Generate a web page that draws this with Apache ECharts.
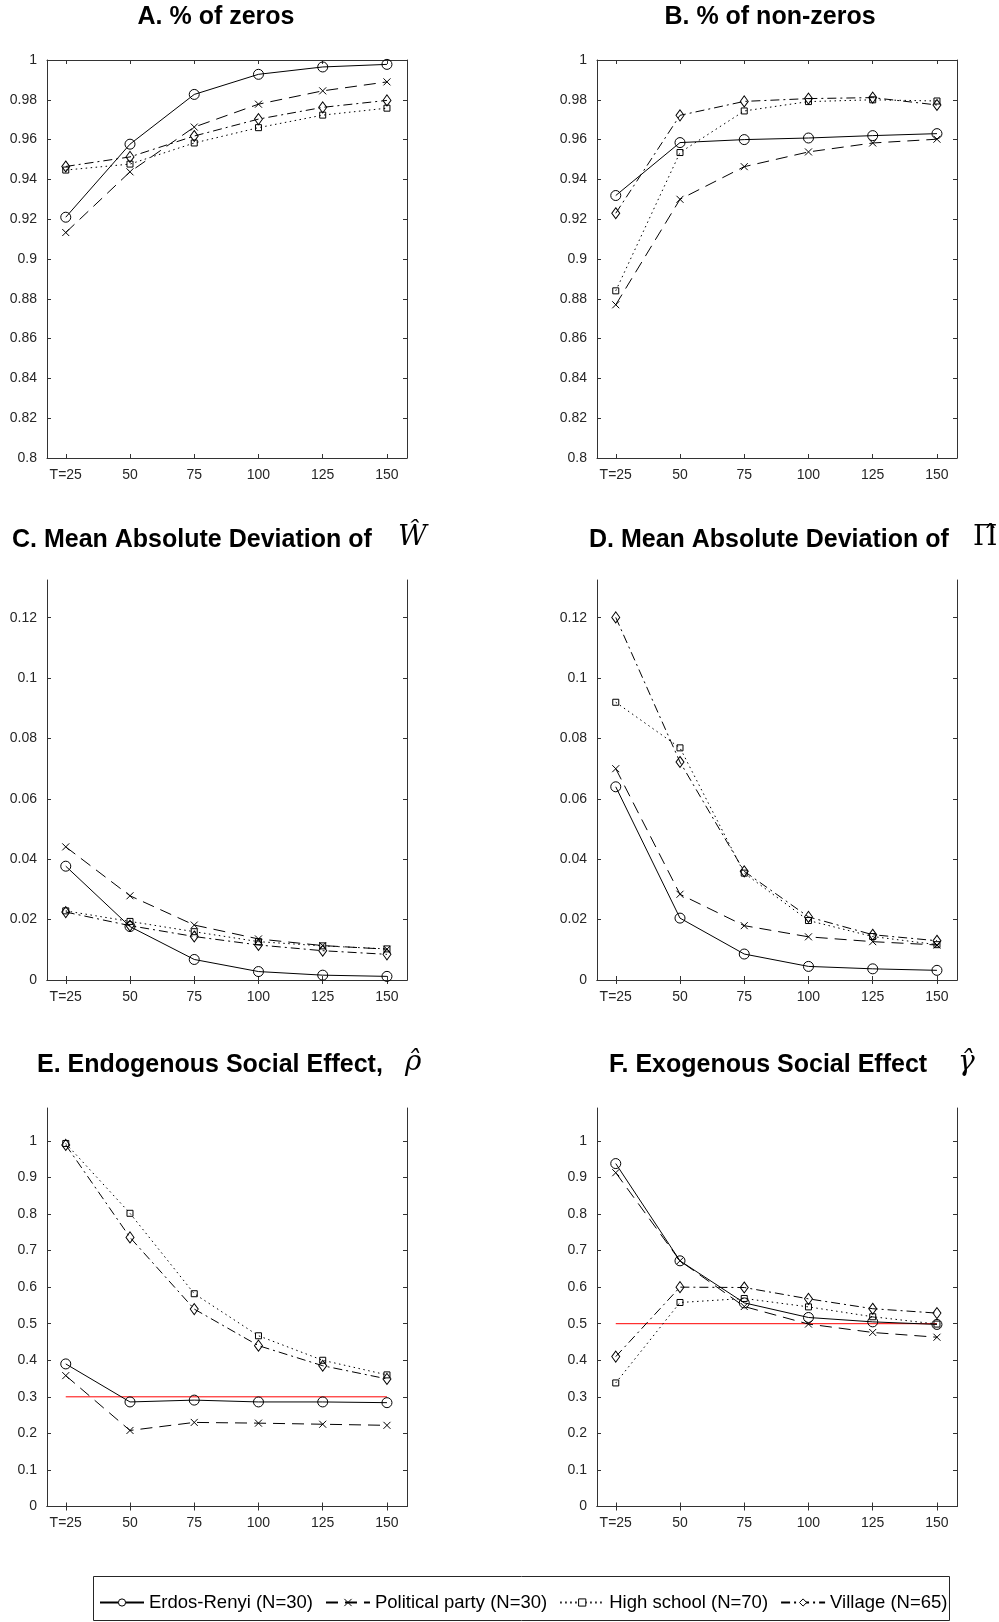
<!DOCTYPE html>
<html>
<head>
<meta charset="utf-8">
<script src="https://cdn.jsdelivr.net/npm/echarts@6/dist/echarts.min.js"></script>
<style>
html,body{margin:0;padding:0;background:#fff;}
#chart{width:999px;height:1622px;}
</style>
</head>
<body>
<div id="chart"></div>
<script>
// ---- data ----
const T = [25, 50, 75, 100, 125, 150];
const xTickLabels = ['T=25', '50', '75', '100', '125', '150'];
const seriesNames = ['Erdos-Renyi (N=30)', 'Political party (N=30)', 'High school (N=70)', 'Village (N=65)'];

const yTicksShare = [0.8, 0.82, 0.84, 0.86, 0.88, 0.9, 0.92, 0.94, 0.96, 0.98, 1];
const yTicksMAD = [0, 0.02, 0.04, 0.06, 0.08, 0.1, 0.12];
const yTicksEffect = [0, 0.1, 0.2, 0.3, 0.4, 0.5, 0.6, 0.7, 0.8, 0.9, 1];

// A. % of zeros
const zerosER = [0.921, 0.9577, 0.9827, 0.9928, 0.9965, 0.9978];
const zerosPP = [0.9133, 0.9438, 0.9663, 0.9778, 0.9845, 0.989];
const zerosHS = [0.9447, 0.9477, 0.9583, 0.966, 0.9723, 0.9758];
const zerosVL = [0.9465, 0.9513, 0.9618, 0.9703, 0.9762, 0.9797];
// B. % of non-zeros
const nonzerosER = [0.9319, 0.9585, 0.96, 0.9608, 0.962, 0.963];
const nonzerosPP = [0.877, 0.930, 0.9464, 0.9538, 0.9583, 0.9602];
const nonzerosHS = [0.884, 0.9535, 0.9744, 0.9791, 0.98, 0.9794];
const nonzerosVL = [0.923, 0.9722, 0.9792, 0.9806, 0.9811, 0.9774];
// C. MAD of W
const madWER = [0.0377, 0.0177, 0.0068, 0.0028, 0.0016, 0.0012];
const madWPP = [0.0441, 0.0279, 0.0182, 0.0136, 0.0114, 0.0102];
const madWHS = [0.0229, 0.0194, 0.016, 0.0127, 0.0113, 0.0103];
const madWVL = [0.0225, 0.018, 0.0144, 0.0116, 0.0097, 0.0085];
// D. MAD of Pi
const madPiER = [0.064, 0.0205, 0.0086, 0.0045, 0.0037, 0.0032];
const madPiPP = [0.070, 0.0284, 0.018, 0.0143, 0.0127, 0.0116];
const madPiHS = [0.092, 0.0769, 0.0354, 0.0197, 0.0144, 0.0117];
const madPiVL = [0.1201, 0.0722, 0.036, 0.0209, 0.015, 0.013];
// E. Endogenous social effect rho
const rhoER = [0.390, 0.286, 0.291, 0.286, 0.286, 0.284];
const rhoPP = [0.358, 0.208, 0.230, 0.228, 0.225, 0.222];
const rhoHS = [0.993, 0.802, 0.582, 0.467, 0.400, 0.360];
const rhoVL = [0.989, 0.736, 0.540, 0.440, 0.385, 0.349];
const rhoTrue = 0.3;
// F. Exogenous social effect gamma
const gammaER = [0.938, 0.672, 0.557, 0.517, 0.505, 0.498];
const gammaPP = [0.913, 0.672, 0.547, 0.499, 0.476, 0.463];
const gammaHS = [0.338, 0.558, 0.569, 0.546, 0.519, 0.499];
const gammaVL = [0.410, 0.600, 0.599, 0.568, 0.541, 0.529];
const gammaTrue = 0.5;

// ---- layout / styles ----
const FONT = 'Liberation Sans';
const AXIS_COLOR = '#333333';
const xMin = 17.7, xMax = 157.8;

const panels = [
  {grid: {left: 47, top: 60, width: 360, height: 398}, yMin: 0.8, yMax: 1, yTicks: yTicksShare,
   data: [zerosER, zerosPP, zerosHS, zerosVL]},
  {grid: {left: 597, top: 60, width: 360, height: 398}, yMin: 0.8, yMax: 1, yTicks: yTicksShare,
   data: [nonzerosER, nonzerosPP, nonzerosHS, nonzerosVL]},
  {grid: {left: 47, top: 580, width: 360, height: 400}, yMin: 0, yMax: 0.1325, yTicks: yTicksMAD,
   data: [madWER, madWPP, madWHS, madWVL]},
  {grid: {left: 597, top: 580, width: 360, height: 400}, yMin: 0, yMax: 0.1325, yTicks: yTicksMAD,
   data: [madPiER, madPiPP, madPiHS, madPiVL]},
  {grid: {left: 47, top: 1108, width: 360, height: 398.5}, yMin: 0, yMax: 1.09, yTicks: yTicksEffect,
   data: [rhoER, rhoPP, rhoHS, rhoVL], ref: rhoTrue},
  {grid: {left: 597, top: 1108, width: 360, height: 398.5}, yMin: 0, yMax: 1.09, yTicks: yTicksEffect,
   data: [gammaER, gammaPP, gammaHS, gammaVL], ref: gammaTrue}
];

const styles = [
  {symbol: 'circle', symbolSize: 10, type: 'solid'},
  {symbol: 'path://M0,0L10,10M10,0L0,10', symbolSize: 7, type: [12, 7]},
  {symbol: 'rect', symbolSize: 6, type: [1.5, 3.5]},
  {symbol: 'diamond', symbolSize: [8, 11], type: [9, 4, 2, 4]}
];

const grids = [], xAxes = [], yAxes = [], series = [];
panels.forEach((p, i) => {
  grids.push(Object.assign({containLabel: false}, p.grid));
  const axLine = {show: true, lineStyle: {color: AXIS_COLOR, width: 1}};
  const tickX = {show: true, inside: true, length: 4, customValues: T, lineStyle: {color: AXIS_COLOR}};
  const tickY = {show: true, inside: true, length: 4, customValues: p.yTicks, lineStyle: {color: AXIS_COLOR}};
  xAxes.push({
    type: 'value', gridIndex: i, min: xMin, max: xMax, position: 'bottom',
    axisLine: axLine, axisTick: tickX, splitLine: {show: false},
    axisLabel: {show: true, customValues: T, margin: 10, fontSize: 14, fontFamily: FONT, color: '#262626',
      formatter: v => xTickLabels[T.indexOf(v)]}
  });
  xAxes.push({
    type: 'value', gridIndex: i, min: xMin, max: xMax, position: 'top',
    axisLine: axLine, axisTick: tickX, splitLine: {show: false}, axisLabel: {show: false}
  });
  yAxes.push({
    type: 'value', gridIndex: i, min: p.yMin, max: p.yMax, position: 'left',
    axisLine: axLine, axisTick: tickY, splitLine: {show: false},
    axisLabel: {show: true, customValues: p.yTicks, margin: 10, fontSize: 14, fontFamily: FONT, color: '#262626'}
  });
  yAxes.push({
    type: 'value', gridIndex: i, min: p.yMin, max: p.yMax, position: 'right',
    axisLine: axLine, axisTick: tickY, splitLine: {show: false}, axisLabel: {show: false}
  });
  if (p.ref !== undefined) {
    series.push({
      type: 'line', name: 'ref' + i, xAxisIndex: 2 * i, yAxisIndex: 2 * i,
      data: [[T[0], p.ref], [T[T.length - 1], p.ref]], symbol: 'none',
      lineStyle: {color: '#ff0000', width: 1}, z: 1, silent: true
    });
  }
  p.data.forEach((vals, k) => {
    const s = styles[k];
    series.push({
      type: 'line', name: seriesNames[k], xAxisIndex: 2 * i, yAxisIndex: 2 * i,
      data: T.map((t, j) => [t, vals[j]]),
      symbol: s.symbol, symbolSize: s.symbolSize, showAllSymbol: true,
      lineStyle: {color: '#000', width: 1, type: s.type},
      itemStyle: {color: 'rgba(0,0,0,0)', borderColor: '#000', borderWidth: 1},
      z: 3
    });
  });
});

const titleStyle = {fontFamily: FONT, fontWeight: 'bold', fontSize: 25, fill: '#000'};
const mathStyle = {fontFamily: 'DejaVu Serif', fontStyle: 'italic', fontSize: 28, fill: '#000'};
const mathUpright = {fontFamily: 'DejaVu Serif', fontSize: 28, fill: '#000'};
function txt(x, y, text, st, align) {
  return {type: 'text', x: x, y: y, style: Object.assign({text: text, textAlign: align || 'left', textVerticalAlign: 'middle'}, st)};
}
const graphics = [
  txt(216, 17, 'A. % of zeros', titleStyle, 'center'),
  txt(770, 17, 'B. % of non-zeros', titleStyle, 'center'),
  txt(12, 540, 'C. Mean Absolute Deviation of', titleStyle),
  txt(398, 538, 'W\u0302', mathStyle),
  txt(589, 540, 'D. Mean Absolute Deviation of', titleStyle),
  txt(973, 538, '\u03A0\u0302', mathUpright),
  txt(37, 1065, 'E. Endogenous Social Effect,', titleStyle),
  txt(405, 1063, '\u03C1\u0302', mathStyle),
  txt(609, 1065, 'F. Exogenous Social Effect', titleStyle),
  txt(958, 1063, '\u03B3\u0302', mathStyle),
  {type: 'rect', shape: {x: 93.5, y: 1576.5, width: 856, height: 44}, style: {fill: 'none', stroke: '#262626', lineWidth: 1}}
];

const chart = echarts.init(document.getElementById('chart'), null, {renderer: 'canvas'});
chart.setOption({
  animation: false,
  backgroundColor: '#fff',
  grid: grids,
  xAxis: xAxes,
  yAxis: yAxes,
  series: series,
  graphic: graphics,
  legend: {
    data: seriesNames, left: 99, top: 1593, itemWidth: 44, itemHeight: 9, itemGap: 12,
    itemStyle: {color: '#fff', borderColor: '#000', borderWidth: 1},
    textStyle: {fontFamily: FONT, fontSize: 18.5, color: '#000', padding: [0, 0, 0, 0]},
    padding: 0
  }
});
</script>
</body>
</html>
